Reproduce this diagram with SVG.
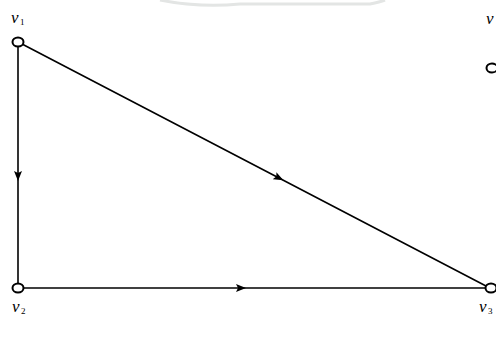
<svg xmlns="http://www.w3.org/2000/svg" width="496" height="345" viewBox="0 0 496 345">
<style>
.e{stroke:#000;stroke-width:1.6;fill:none}
.n{fill:#fff;stroke:#000;stroke-width:2}
.t{font-family:"Liberation Serif",serif;font-style:italic;font-size:17px;fill:#000}
.s{font-family:"Liberation Serif",serif;font-size:9px;fill:#000}
</style>
<defs>
<marker id="a" viewBox="0 0 10 8" refX="5" refY="4" markerWidth="10" markerHeight="8" markerUnits="userSpaceOnUse" orient="auto">
<path d="M0,0 L10,4 L0,8 L2,4 Z" fill="#000"/>
</marker>
</defs>
<path d="M160,0 Q200,8 240,4 L370,4 Q380,2 385,0" fill="none" stroke="#e3e5e4" stroke-width="3"/>
<g id="connectors">
<path class="e" d="M18,46 L18,176 L18,284" marker-mid="url(#a)"/>
<path class="e" d="M22,44 L279,178 L486,286" marker-mid="url(#a)"/>
<path class="e" d="M23,288 L241,288 L486,288" marker-mid="url(#a)"/>
</g>
<g id="v1">
<ellipse class="n" cx="18" cy="42" rx="5.5" ry="4.5"/>
<text class="t" x="11" y="23">v</text><text class="s" x="20" y="25">1</text>
</g>
<g id="v2">
<ellipse class="n" cx="18" cy="288" rx="5.5" ry="4.5"/>
<text class="t" x="12" y="312">v</text><text class="s" x="21" y="314">2</text>
</g>
<g id="v3">
<ellipse class="n" cx="491" cy="288" rx="5.5" ry="4.5"/>
<text class="t" x="479" y="312">v</text><text class="s" x="488" y="314">3</text>
</g>
<g id="v4">
<ellipse class="n" cx="492" cy="68" rx="5.5" ry="4.5"/>
<text class="t" x="486" y="24">v</text>
</g>
</svg>
